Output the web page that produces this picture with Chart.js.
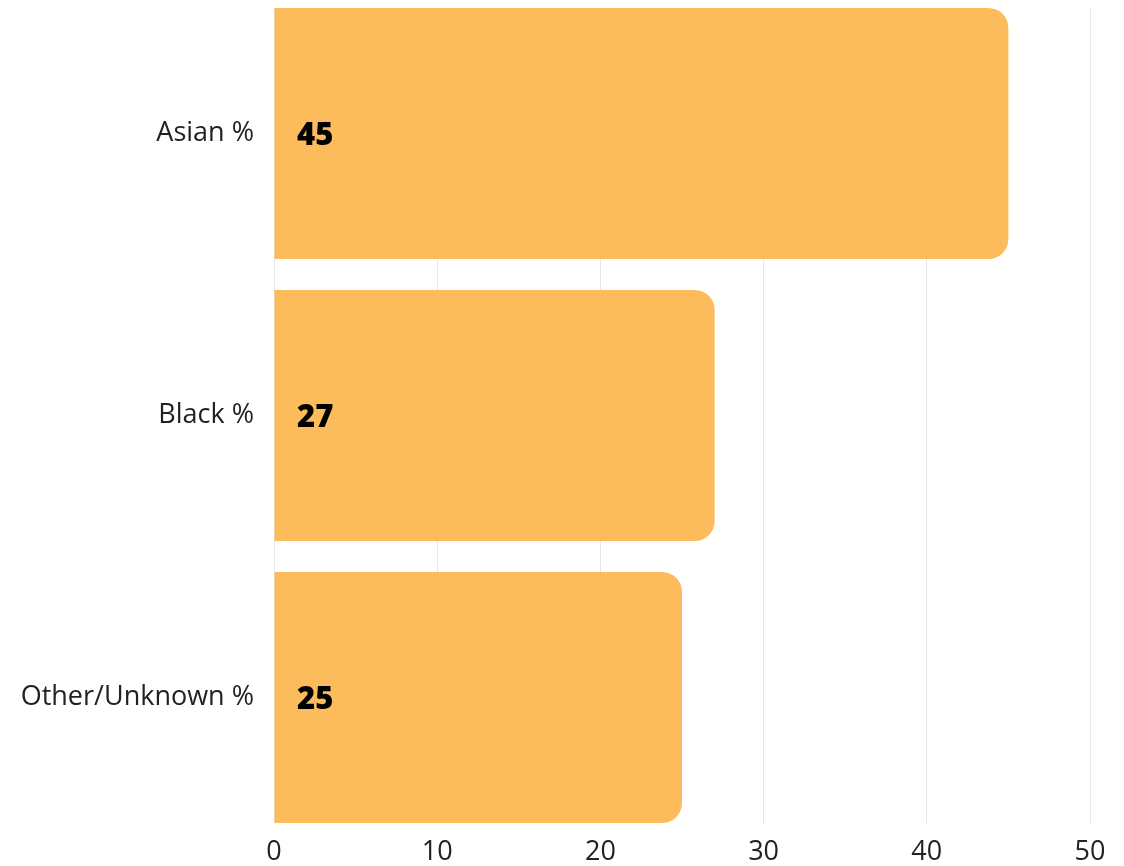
<!DOCTYPE html>
<html>
<head>
<meta charset="utf-8">
<script src="https://cdn.jsdelivr.net/npm/chart.js@4.4.0/dist/chart.umd.min.js"></script>
<style>
  html, body { margin: 0; padding: 0; background: #ffffff; }
  #wrap { width: 1124px; height: 866px; }
</style>
</head>
<body>
<div id="wrap"><canvas id="chart" width="1124" height="866"></canvas></div>
<script>
const categories = ["Asian %", "Black %", "Other/Unknown %"];
const shares = [45, 27, 25];
const xTicks = [0, 10, 20, 30, 40, 50];

const FONT = "'Open Sans', 'Lato', sans-serif";

// Writes each bar's value inside its left end
const insideLabels = {
  id: 'insideLabels',
  afterDatasetsDraw(chart) {
    const { ctx } = chart;
    const meta = chart.getDatasetMeta(0);
    const left = chart.scales.x.left;
    ctx.save();
    ctx.font = "800 31px " + FONT;
    ctx.fillStyle = '#000000';
    ctx.textAlign = 'left';
    ctx.textBaseline = 'middle';
    meta.data.forEach((bar, i) => {
      ctx.fillText(String(shares[i]), left + 23, bar.y + 3);
    });
    ctx.restore();
  }
};

new Chart(document.getElementById('chart'), {
  type: 'bar',
  data: {
    labels: categories,
    datasets: [{
      data: shares,
      backgroundColor: '#FDBC5B',
      borderRadius: 20,
      borderSkipped: 'start',
      barPercentage: 0.89,
      categoryPercentage: 1.0
    }]
  },
  options: {
    indexAxis: 'y',
    responsive: false,
    animation: false,
    layout: { padding: { top: 8, right: 34, left: 0, bottom: 0 } },
    plugins: { legend: { display: false }, tooltip: { enabled: false } },
    scales: {
      x: {
        min: 0,
        max: 50,
        afterBuildTicks(scale) { scale.ticks = xTicks.map(v => ({ value: v })); },
        afterFit(scale) {
          scale.height = 43;
          scale.paddingLeft = 0;
          scale.paddingRight = 0;
        },
        grid: { color: '#e6e6e6', drawTicks: false, lineWidth: 1 },
        border: { display: false },
        ticks: { color: '#222222', font: { family: FONT, size: 27 }, padding: 13 }
      },
      y: {
        afterFit(scale) {
          scale.width = 274;
          scale.paddingTop = 0;
          scale.paddingBottom = 0;
        },
        // bars sit flush with the top and bottom of the plot area
        afterUpdate(scale) {
          scale._valueRange = 2.89;
          scale._startValue = -0.445;
        },
        grid: { display: false, drawTicks: false },
        border: { display: false },
        ticks: { color: '#222222', font: { family: FONT, size: 27 }, padding: 20 }
      }
    }
  },
  plugins: [insideLabels]
});
</script>
</body>
</html>
